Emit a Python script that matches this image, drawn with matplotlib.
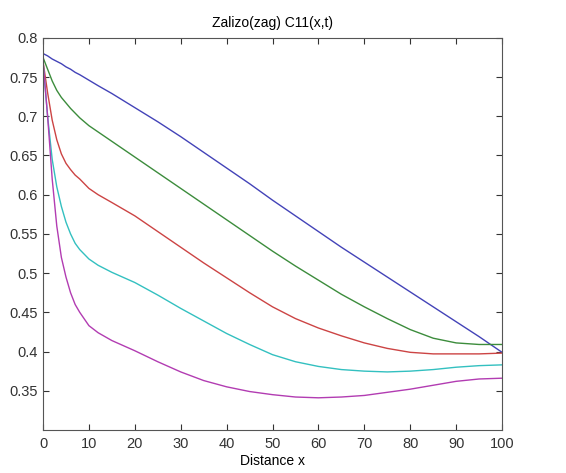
import numpy as np
import matplotlib
matplotlib.use("Agg")
import matplotlib.pyplot as plt

plt.rcParams['font.family'] = ['Liberation Sans', 'DejaVu Sans']

# valores
x = [0, 1, 2, 3, 4, 5, 6, 7, 8, 10, 12, 15, 20, 25, 30, 35, 40, 45, 50,
     55, 60, 65, 70, 75, 80, 85, 90, 95, 100]

c_azul = [0.780, 0.777, 0.773, 0.770, 0.767, 0.763, 0.760, 0.756, 0.753, 0.746,
          0.739, 0.729, 0.711, 0.693, 0.674, 0.654, 0.634, 0.614, 0.593,
          0.573, 0.553, 0.533, 0.514, 0.495, 0.476, 0.457, 0.438, 0.419, 0.399]
c_verde = [0.775, 0.760, 0.745, 0.733, 0.724, 0.717, 0.710, 0.704, 0.698, 0.688,
           0.680, 0.668, 0.648, 0.628, 0.608, 0.588, 0.568, 0.548, 0.528,
           0.509, 0.491, 0.473, 0.457, 0.442, 0.428, 0.417, 0.411, 0.409, 0.409]
c_rojo = [0.770, 0.730, 0.695, 0.670, 0.652, 0.640, 0.632, 0.625, 0.620, 0.608,
          0.600, 0.590, 0.573, 0.553, 0.533, 0.513, 0.494, 0.475, 0.457,
          0.442, 0.430, 0.420, 0.411, 0.404, 0.399, 0.397, 0.397, 0.397, 0.398]
c_cian = [0.770, 0.700, 0.645, 0.610, 0.585, 0.565, 0.550, 0.538, 0.530, 0.518,
          0.510, 0.501, 0.488, 0.472, 0.455, 0.439, 0.423, 0.409, 0.396,
          0.387, 0.381, 0.377, 0.375, 0.374, 0.375, 0.377, 0.380, 0.382, 0.383]
c_magenta = [0.770, 0.700, 0.620, 0.560, 0.520, 0.495, 0.475, 0.460, 0.450, 0.433,
             0.424, 0.414, 0.401, 0.387, 0.374, 0.363, 0.355, 0.349, 0.345,
             0.342, 0.341, 0.342, 0.344, 0.348, 0.352, 0.357, 0.362, 0.365, 0.366]

series = [c_azul, c_verde, c_rojo, c_cian, c_magenta]
colores = ["#4343b8", "#3c8c3c", "#cc4444", "#33c0c0", "#b23cb2"]

fig = plt.figure(figsize=(5.66, 4.73), dpi=100)
ax = fig.add_axes([0.076, 0.091, 0.811, 0.829])

for y, c in zip(series, colores):
    ax.plot(x, y, color=c, linewidth=1.0)

ax.set_xlim(0, 100)
ax.set_ylim(0.3, 0.8)
ax.set_xticks(np.arange(0, 101, 10))
ax.set_yticks([0.35, 0.4, 0.45, 0.5, 0.55, 0.6, 0.65, 0.7, 0.75, 0.8])
ax.set_yticklabels(["0.35", "0.4", "0.45", "0.5", "0.55", "0.6", "0.65", "0.7", "0.75", "0.8"])
ax.tick_params(direction="in", top=True, right=True, length=4, labelsize=10.5, colors="#333333")
ax.tick_params(axis="x", pad=5)
for s in ax.spines.values():
    s.set_color("#555555")
ax.set_xlabel("Distance x", fontsize=10, labelpad=2)
ax.set_title("Zalizo(zag) C11(x,t)", fontsize=10, pad=8)

fig.savefig("out.png", dpi=100)
